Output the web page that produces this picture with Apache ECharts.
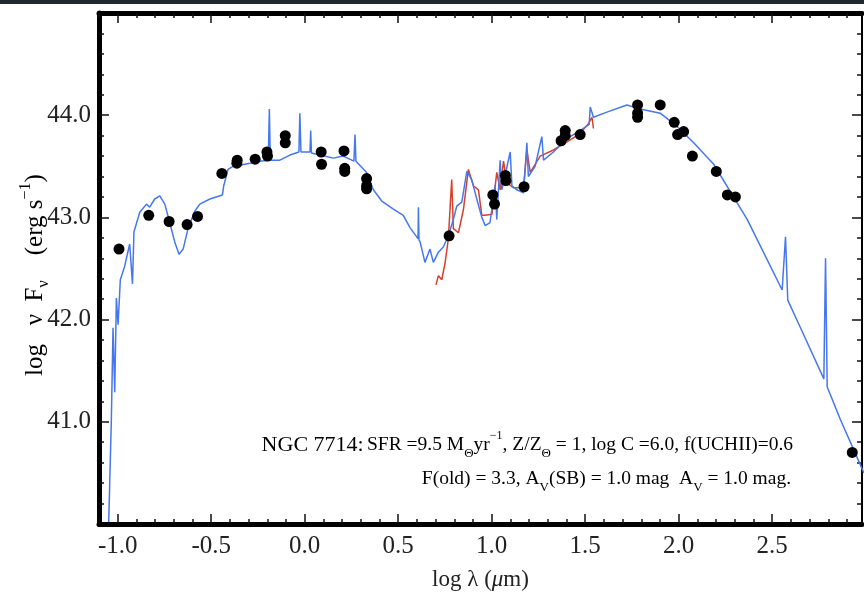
<!DOCTYPE html>
<html><head><meta charset="utf-8">
<script src="https://cdn.jsdelivr.net/npm/echarts@6/dist/echarts.min.js"></script>
<style>html,body{margin:0;padding:0;background:#fff}#c{width:864px;height:596px}</style>
</head><body><div id="c"></div>
<script>
// Model SED (blue)
const modelLogLam = [-1.048,-1.034,-1.025,-1.016,-1.007,-0.998,-0.986,-0.963,-0.936,-0.921,-0.913,-0.882,-0.846,-0.829,-0.802,-0.775,-0.748,-0.722,-0.695,-0.672,-0.650,-0.624,-0.588,-0.561,-0.507,-0.440,-0.433,-0.410,-0.383,-0.347,-0.293,-0.240,-0.195,-0.189,-0.184,-0.133,-0.079,-0.031,-0.026,-0.020,0.010,0.028,0.032,0.036,0.081,0.153,0.206,0.263,0.269,0.274,0.331,0.367,0.412,0.474,0.527,0.563,0.599,0.606,0.608,0.611,0.617,0.643,0.670,0.688,0.715,0.741,0.768,0.795,0.813,0.840,0.867,0.893,0.920,0.947,0.965,0.991,1.018,1.027,1.045,1.054,1.099,1.108,1.134,1.170,1.188,1.196,1.232,1.268,1.277,1.330,1.402,1.473,1.521,1.527,1.544,1.616,1.723,1.794,1.901,1.991,2.080,2.187,2.366,2.553,2.571,2.583,2.651,2.776,2.785,2.794,2.865,2.990];
const modelLogFlux = [40.02,41.02,41.92,41.29,42.21,41.95,42.39,42.52,42.74,42.35,42.86,43.05,43.13,43.10,43.18,43.21,43.13,42.95,42.76,42.64,42.69,42.89,43.06,43.13,43.18,43.22,43.31,43.47,43.50,43.51,43.53,43.55,43.56,44.06,43.56,43.56,43.61,43.64,44.02,43.64,43.64,43.64,43.85,43.63,43.61,43.58,43.60,43.55,43.81,43.55,43.44,43.27,43.16,43.08,43.02,42.90,42.81,42.79,43.10,42.78,42.76,42.56,42.69,42.56,42.66,42.71,42.82,42.98,43.11,43.15,43.45,43.37,43.18,43.00,42.92,42.95,43.31,42.98,43.56,43.27,43.64,43.31,43.27,43.24,43.73,43.40,43.50,43.79,43.56,43.64,43.77,43.85,43.91,44.08,43.98,44.03,44.10,44.06,44.02,43.89,43.73,43.52,42.98,42.29,42.81,42.19,41.92,41.42,42.60,41.34,41.02,40.50];
// IRS spectrum (red)
const irsLogLam = [0.702,0.715,0.733,0.751,0.768,0.786,0.795,0.822,0.849,0.875,0.902,0.929,0.947,0.965,1.001,1.027,1.045,1.063,1.081,1.116,1.170,1.188,1.206,1.259,1.330,1.402,1.473,1.518,1.536,1.544];
const irsLogFlux = [42.34,42.43,42.39,42.56,42.79,43.37,42.89,42.85,43.08,43.47,43.31,43.27,43.02,43.02,43.03,43.44,43.27,43.55,43.34,43.29,43.29,43.66,43.44,43.60,43.66,43.74,43.82,43.92,43.98,43.87];
// Photometry (black dots)
const obsLogLam = [-0.993,-0.834,-0.725,-0.629,-0.573,-0.443,-0.361,-0.363,-0.265,-0.202,-0.199,-0.104,-0.104,0.088,0.090,0.210,0.214,0.214,0.331,0.331,0.331,0.772,1.006,1.015,1.073,1.076,1.173,1.371,1.393,1.393,1.473,1.780,1.780,1.780,1.901,1.976,1.994,2.026,2.073,2.201,2.260,2.303,2.928];
const obsLogFlux = [42.69,43.02,42.96,42.93,43.01,43.43,43.56,43.53,43.57,43.64,43.60,43.80,43.73,43.64,43.52,43.65,43.48,43.45,43.38,43.31,43.28,42.82,43.22,43.13,43.41,43.36,43.30,43.75,43.85,43.80,43.81,44.10,44.02,43.98,44.10,43.93,43.81,43.84,43.60,43.45,43.22,43.20,40.70];
// Ticks
const xMajorTicks = [-1.0,-0.5,0.0,0.5,1.0,1.5,2.0,2.5];
const xMinorTicks = [-1.1,-1.0,-0.9,-0.8,-0.7,-0.6,-0.5,-0.4,-0.3,-0.2,-0.1,0.0,0.1,0.2,0.3,0.4,0.5,0.6,0.7,0.8,0.9,1.0,1.1,1.2,1.3,1.4,1.5,1.6,1.7,1.8,1.9,2.0,2.1,2.2,2.3,2.4,2.5,2.6,2.7,2.8,2.9];
const yMajorTicks = [41.0,42.0,43.0,44.0];
const yMinorTicks = [40.2,40.4,40.6,40.8,41.0,41.2,41.4,41.6,41.8,42.0,42.2,42.4,42.6,42.8,43.0,43.2,43.4,43.6,43.8,44.0,44.2,44.4,44.6,44.8];

const FONT = 'Liberation Serif';
const X_MIN = -1.1, X_MAX = 2.98, Y_MIN = 40.0, Y_MAX = 45.0;

function zip(a, b) { return a.map((v, i) => [v, b[i]]); }

function xAx(pos, ticks, len, label, lineW) {
  return {
    type: 'value', min: X_MIN, max: X_MAX, position: pos,
    axisLine: { show: lineW > 0, onZero: false, lineStyle: { color: '#000', width: lineW } },
    axisTick: { show: true, inside: true, length: len, customValues: ticks, lineStyle: { color: '#111', width: 1.5 } },
    axisLabel: label ? { show: true, customValues: xMajorTicks, formatter: v => v.toFixed(1), fontFamily: FONT, fontSize: 25, color: '#222', margin: 10 } : { show: false },
    splitLine: { show: false }
  };
}
function yAx(pos, ticks, len, label, lineW) {
  return {
    type: 'value', min: Y_MIN, max: Y_MAX, position: pos,
    axisLine: { show: lineW > 0, onZero: false, lineStyle: { color: '#000', width: lineW } },
    axisTick: { show: true, inside: true, length: len, customValues: ticks, lineStyle: { color: '#111', width: 1.5 } },
    axisLabel: label ? { show: true, customValues: yMajorTicks, formatter: v => v.toFixed(1), fontFamily: FONT, fontSize: 25, color: '#222', margin: 8 } : { show: false },
    splitLine: { show: false }
  };
}

const xAxes = [xAx('bottom', xMajorTicks, 10, true, 5), xAx('bottom', xMinorTicks, 5, false, 0), xAx('top', xMajorTicks, 10, false, 5), xAx('top', xMinorTicks, 5, false, 0)];
xAxes[0].name = '{n|log λ (}{i|μ}{n|m)}';
xAxes[0].nameLocation = 'middle';
xAxes[0].nameGap = 44;
xAxes[0].nameTextStyle = { fontFamily: FONT, fontSize: 23, color: '#222', rich: { n: { fontFamily: FONT, fontSize: 23, color: '#222' }, i: { fontFamily: FONT, fontSize: 23, fontStyle: 'italic', color: '#222' } } };

const yAxes = [yAx('left', yMajorTicks, 10, true, 5), yAx('left', yMinorTicks, 5, false, 0), yAx('right', yMajorTicks, 10, false, 2), yAx('right', yMinorTicks, 5, false, 0)];

const richYTitle = {
  n: { fontFamily: FONT, fontSize: 25, lineHeight: 34, color: '#222' },
  sub: { fontFamily: FONT, fontSize: 16, lineHeight: 16, verticalAlign: 'bottom', color: '#222' },
  sup: { fontFamily: FONT, fontSize: 16, lineHeight: 21, verticalAlign: 'top', color: '#222' }
};

const richAnno = {
  big: { fontFamily: FONT, fontSize: 22, lineHeight: 30, color: '#111' },
  n: { fontFamily: FONT, fontSize: 19.5, lineHeight: 30, color: '#111' },
  sub: { fontFamily: FONT, fontSize: 13, lineHeight: 13, verticalAlign: 'bottom', color: '#111' },
  sup: { fontFamily: FONT, fontSize: 12, lineHeight: 19, verticalAlign: 'top', color: '#111' }
};

const chart = echarts.init(document.getElementById('c'), null, { renderer: 'canvas' });
chart.setOption({
  backgroundColor: '#fff',
  animation: false,
  grid: { left: 99, right: 2, top: 13, bottom: 64, containLabel: false },
  xAxis: xAxes,
  yAxis: yAxes,
  graphic: [
    { type: 'rect', left: 0, top: 0, shape: { width: 864, height: 4 }, style: { fill: '#1f292e' }, silent: true },
    { type: 'text', x: 35, y: 275, rotation: Math.PI / 2, style: { text: '{n|log   ν  F}{sub|ν}{n|    (erg s}{sup|−1}{n|)}', rich: richYTitle, align: 'center', verticalAlign: 'middle' }, silent: true, z: 10 },
    { type: 'text', x: 793, y: 445, style: { text: '{big|NGC 7714:} {n|SFR =9.5 M}{sub|Θ}{n|yr}{sup|−1}{n|, Z/Z}{sub|Θ}{n| = 1, log C =6.0, f(UCHII)=0.6}', rich: richAnno, align: 'right', verticalAlign: 'middle' }, silent: true, z: 10 },
    { type: 'text', x: 791, y: 479, style: { text: '{n|F(old) = 3.3, A}{sub|V}{n|(SB) = 1.0 mag  A}{sub|V}{n| = 1.0 mag.}', rich: richAnno, align: 'right', verticalAlign: 'middle' }, silent: true, z: 10 }
  ],
  series: [
    { type: 'line', name: 'IRS', data: zip(irsLogLam, irsLogFlux), showSymbol: false, lineStyle: { color: '#d6402c', width: 1.5 }, z: 2 },
    { type: 'line', name: 'model', data: zip(modelLogLam, modelLogFlux), showSymbol: false, lineStyle: { color: '#4677ee', width: 1.5 }, z: 3 },
    { type: 'scatter', name: 'obs', data: zip(obsLogLam, obsLogFlux), symbolSize: 11, itemStyle: { color: '#000', opacity: 1 }, z: 5 }
  ]
});
</script>
</body></html>
